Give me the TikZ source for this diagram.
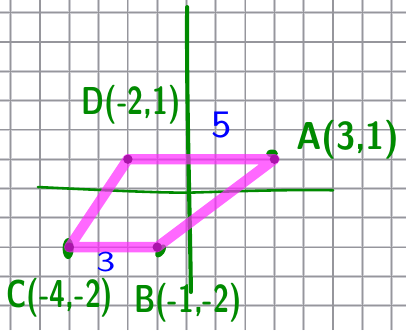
\documentclass[tikz,border=0pt]{standalone}
\usepackage{tikz}
\usetikzlibrary{calc}
\definecolor{penGreen}{RGB}{0,138,0}
\definecolor{penBlue}{RGB}{0,0,255}
\definecolor{hiMagenta}{RGB}{255,40,255}
\definecolor{dotPurple}{RGB}{170,20,170}
\definecolor{gridCore}{RGB}{150,150,156}
\definecolor{gridHalo}{RGB}{205,205,210}
\newcommand{\handtext}[2][1]{\scalebox{#1}[1.35]{#2}}
\newcommand{\handdigit}[2][1]{\scalebox{#1}[1.0]{#2}}
\tikzset{
  every node/.append style={font=\sffamily\bfseries},
  pen/.style={penGreen, line cap=round, line join=round},
  ptlabel/.style={text=penGreen, inner sep=0pt, font=\sffamily\bfseries\fontsize{28}{30}\selectfont},
  sidelabel/.style={text=penBlue, inner sep=0pt, font=\sffamily\fontsize{28}{30}\selectfont},
  highlight/.style={hiMagenta, line width=10pt, opacity=0.7, line join=round, line cap=round},
}

\begin{document}
\begin{tikzpicture}[x=1cm, y=1cm, >=stealth]
    \useasboundingbox[fill=white] (-6.365,-4.83) rectangle (7.49,6.433);
    % graph paper
    \draw[gridHalo, line width=2.6pt] (-6.365,-4.83) grid (7.49,6.433);
    \draw[gridCore, line width=1.1pt] (-6.365,-4.83) grid (7.49,6.433);
    % axes, drawn by hand
    \coordinate (ytop) at (0.02,6.19);
    \coordinate (ybot) at (0.15,-3.53);
    \coordinate (xleft) at (-5.07,0.05);
    \coordinate (xmid) at (0.12,-0.14);
    \coordinate (xright) at (5.0,-0.06);
    \draw[pen, line width=4pt] (ytop) .. controls (0.0,3) and (0.1,0) .. (ybot);
    \draw[pen, line width=2.5pt] (xleft) .. controls (-3,-0.05) and (-1,-0.15) .. (xmid)
        .. controls (1.5,-0.1) and (3.5,-0.03) .. (xright);
    % vertices
    \coordinate (A) at (3,1);
    \coordinate (B) at (-1,-2);
    \coordinate (C) at (-4,-2);
    \coordinate (D) at (-2,1);
    % green pen marks under the highlighter
    \fill[penGreen] ($(C)+(-0.04,-0.05)$) ellipse (0.19 and 0.36);
    \fill[penGreen, rotate around={55:($(B)+(-0.04,-0.17)$)}] ($(B)+(-0.04,-0.17)$) ellipse (0.25 and 0.14);
    \fill[penGreen] ($(A)+(-0.08,0.2)$) ellipse (0.2 and 0.13);
    % parallelogram
    \draw[highlight] (A) -- (D) -- (C) -- (B) -- cycle;
    \foreach \p in {A,B,C,D}
        \fill[dotPurple] (\p) circle (0.16);
    % labels
    \node[ptlabel] (labD) at (-1.89,2.85) {\handtext{D(-2,1)}};
    \node[ptlabel] (labA) at (5.51,1.66) {\handtext[1.2]{A(3,1)}};
    \node[ptlabel] (labC) at (-4.32,-3.74) {\handtext{C(-4,-2)}};
    \node[ptlabel] (labB) at (0.05,-3.9) {\handtext{B(-1,-2)}};
    \node[sidelabel] (top) at (1.21,2.17) {\handtext[1.5]{5}};
    \node[sidelabel] (bottom) at (-2.75,-2.52) {\handdigit[1.4]{3}};
\end{tikzpicture}
\end{document}
